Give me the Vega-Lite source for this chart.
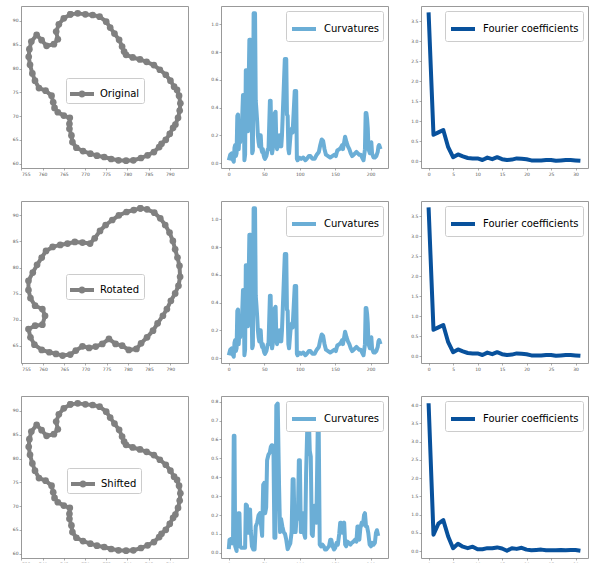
{
"$schema":"https://vega.github.io/schema/vega-lite/v6.json",
"padding":{"left":11,"top":5,"right":0,"bottom":0},
"bounds":"flush",
"spacing":33,
"columns":3,
"resolve":{"scale":{"color":"independent","x":"independent","y":"independent"},"legend":{"color":"independent"}},
"config":{
 "view":{"stroke":"#999","strokeWidth":1},
 "axis":{"grid":false,"domain":false,"labelFont":"DejaVu Sans","labelFontSize":4.5,"labelColor":"#555","tickSize":2,"tickColor":"#777","tickWidth":0.6,"labelPadding":1},
 "legend":{"title":null,"labelFont":"DejaVu Sans","labelFontSize":10,"labelColor":"#000","padding":4,"strokeColor":"#ccc","fillColor":"#fff","cornerRadius":2,"symbolSize":576,"symbolStrokeWidth":4,"labelOffset":6,"rowPadding":0,"offset":5}
},
"datasets":{
 "shapeA":[{"i":0,"x":766.56,"y":91.39},{"i":1,"x":768.28,"y":91.6},{"i":2,"x":770.08,"y":91.39},{"i":3,"x":771.8,"y":91.26},{"i":4,"x":773.44,"y":90.91},{"i":5,"x":775.0,"y":89.86},{"i":6,"x":775.94,"y":88.61},{"i":7,"x":776.95,"y":87.35},{"i":8,"x":778.05,"y":86.03},{"i":9,"x":778.75,"y":84.63},{"i":10,"x":779.22,"y":83.58},{"i":11,"x":779.69,"y":82.89},{"i":12,"x":781.25,"y":82.33},{"i":13,"x":782.97,"y":81.91},{"i":14,"x":784.53,"y":81.42},{"i":15,"x":786.25,"y":80.73},{"i":16,"x":787.66,"y":79.75},{"i":17,"x":789.06,"y":78.7},{"i":18,"x":790.16,"y":77.45},{"i":19,"x":791.02,"y":76.19},{"i":20,"x":791.72,"y":75.5},{"i":21,"x":792.19,"y":74.31},{"i":22,"x":792.5,"y":72.71},{"i":23,"x":792.34,"y":71.17},{"i":24,"x":791.95,"y":69.64},{"i":25,"x":791.33,"y":68.24},{"i":26,"x":790.78,"y":67.55},{"i":27,"x":790.0,"y":66.29},{"i":28,"x":789.06,"y":65.03},{"i":29,"x":788.05,"y":64.2},{"i":30,"x":787.5,"y":63.5},{"i":31,"x":786.25,"y":62.45},{"i":32,"x":784.77,"y":61.76},{"i":33,"x":783.2,"y":61.2},{"i":34,"x":781.41,"y":60.71},{"i":35,"x":779.69,"y":60.64},{"i":36,"x":777.89,"y":60.71},{"i":37,"x":776.17,"y":60.99},{"i":38,"x":774.53,"y":61.41},{"i":39,"x":772.81,"y":61.69},{"i":40,"x":771.25,"y":62.11},{"i":41,"x":769.53,"y":62.66},{"i":42,"x":767.97,"y":63.36},{"i":43,"x":767.03,"y":64.55},{"i":44,"x":766.8,"y":65.94},{"i":45,"x":766.33,"y":67.34},{"i":46,"x":766.33,"y":68.38},{"i":47,"x":766.41,"y":69.64},{"i":48,"x":765.0,"y":70.13},{"i":49,"x":763.59,"y":70.82},{"i":50,"x":762.81,"y":71.73},{"i":51,"x":762.5,"y":72.91},{"i":52,"x":762.11,"y":74.31},{"i":53,"x":760.7,"y":75.36},{"i":54,"x":759.14,"y":75.91},{"i":55,"x":758.2,"y":77.45},{"i":56,"x":757.58,"y":78.98},{"i":57,"x":757.03,"y":80.79},{"i":58,"x":756.72,"y":82.47},{"i":59,"x":756.88,"y":84.07},{"i":60,"x":757.34,"y":85.68},{"i":61,"x":758.59,"y":87.07},{"i":62,"x":759.77,"y":85.96},{"i":63,"x":760.94,"y":84.77},{"i":64,"x":762.66,"y":85.12},{"i":65,"x":763.59,"y":86.16},{"i":66,"x":763.2,"y":87.77},{"i":67,"x":763.83,"y":89.3},{"i":68,"x":765.0,"y":90.56},{"i":69,"x":766.56,"y":91.39}],
 "shapeB":[{"i":0,"x":782.97,"y":91.34},{"i":1,"x":784.53,"y":91.15},{"i":2,"x":786.25,"y":90.51},{"i":3,"x":787.66,"y":89.43},{"i":4,"x":788.83,"y":88.15},{"i":5,"x":789.84,"y":86.69},{"i":6,"x":790.63,"y":85.1},{"i":7,"x":791.17,"y":83.5},{"i":8,"x":791.72,"y":81.91},{"i":9,"x":792.19,"y":80.32},{"i":10,"x":792.34,"y":78.22},{"i":11,"x":791.95,"y":76.5},{"i":12,"x":791.17,"y":75.03},{"i":13,"x":790.16,"y":73.63},{"i":14,"x":789.22,"y":72.04},{"i":15,"x":788.28,"y":70.76},{"i":16,"x":787.03,"y":69.3},{"i":17,"x":785.94,"y":67.9},{"i":18,"x":784.53,"y":66.62},{"i":19,"x":783.13,"y":65.48},{"i":20,"x":782.03,"y":64.39},{"i":21,"x":780.23,"y":64.2},{"i":22,"x":778.67,"y":65.03},{"i":23,"x":777.11,"y":65.35},{"i":24,"x":775.55,"y":66.31},{"i":25,"x":773.98,"y":65.35},{"i":26,"x":772.42,"y":64.84},{"i":27,"x":770.86,"y":64.59},{"i":28,"x":769.3,"y":64.9},{"i":29,"x":767.73,"y":64.08},{"i":30,"x":766.41,"y":63.31},{"i":31,"x":764.61,"y":63.12},{"i":32,"x":763.05,"y":63.44},{"i":33,"x":761.48,"y":63.76},{"i":34,"x":759.69,"y":64.2},{"i":35,"x":757.97,"y":65.22},{"i":36,"x":757.03,"y":66.62},{"i":37,"x":756.56,"y":68.22},{"i":38,"x":758.13,"y":68.85},{"i":39,"x":759.84,"y":69.04},{"i":40,"x":760.47,"y":70.76},{"i":41,"x":759.84,"y":72.04},{"i":42,"x":758.13,"y":72.68},{"i":43,"x":757.03,"y":74.14},{"i":44,"x":756.56,"y":75.67},{"i":45,"x":756.56,"y":77.45},{"i":46,"x":757.58,"y":79.04},{"i":47,"x":758.59,"y":80.51},{"i":48,"x":759.69,"y":81.91},{"i":49,"x":760.7,"y":83.18},{"i":50,"x":762.27,"y":83.95},{"i":51,"x":764.06,"y":84.33},{"i":52,"x":765.78,"y":84.59},{"i":53,"x":767.5,"y":84.9},{"i":54,"x":769.3,"y":84.78},{"i":55,"x":771.09,"y":84.59},{"i":56,"x":772.19,"y":85.61},{"i":57,"x":773.44,"y":87.01},{"i":58,"x":774.77,"y":88.15},{"i":59,"x":776.33,"y":89.11},{"i":60,"x":777.89,"y":90.0},{"i":61,"x":779.69,"y":90.64},{"i":62,"x":781.41,"y":91.02},{"i":63,"x":782.97,"y":91.34}],
 "curvA":[{"x":0,"y":0.02},{"x":2,"y":0.06},{"x":4,"y":0.07},{"x":5,"y":0.03},{"x":7,"y":0.01},{"x":8,"y":0.11},{"x":9,"y":0.13},{"x":10,"y":0.05},{"x":11,"y":0.07},{"x":12,"y":0.34},{"x":13,"y":0.35},{"x":14,"y":0.1},{"x":15,"y":0.2},{"x":16,"y":0.15},{"x":17,"y":0.21},{"x":18,"y":0.2},{"x":20,"y":0.49},{"x":21,"y":0.49},{"x":22,"y":0.02},{"x":23,"y":0.06},{"x":24,"y":0.67},{"x":26,"y":0.67},{"x":27,"y":0.23},{"x":29,"y":0.89},{"x":31,"y":0.89},{"x":33,"y":0.07},{"x":34,"y":0.09},{"x":35,"y":1.08},{"x":37,"y":1.08},{"x":38,"y":0.45},{"x":39,"y":0.38},{"x":40,"y":0.3},{"x":41,"y":0.2},{"x":42,"y":0.15},{"x":43,"y":0.12},{"x":44,"y":0.2},{"x":45,"y":0.2},{"x":46,"y":0.1},{"x":47,"y":0.08},{"x":48,"y":0.1},{"x":49,"y":0.06},{"x":50,"y":0.04},{"x":51,"y":0.03},{"x":53,"y":0.05},{"x":55,"y":0.1},{"x":56,"y":0.1},{"x":58,"y":0.45},{"x":59,"y":0.45},{"x":60,"y":0.15},{"x":61,"y":0.07},{"x":62,"y":0.1},{"x":64,"y":0.35},{"x":66,"y":0.37},{"x":67,"y":0.15},{"x":68,"y":0.1},{"x":69,"y":0.2},{"x":71,"y":0.12},{"x":72,"y":0.2},{"x":74,"y":0.12},{"x":75,"y":0.2},{"x":79,"y":0.75},{"x":81,"y":0.75},{"x":82,"y":0.35},{"x":83,"y":0.34},{"x":84,"y":0.1},{"x":85,"y":0.07},{"x":87,"y":0.2},{"x":89,"y":0.25},{"x":90,"y":0.22},{"x":93,"y":0.52},{"x":95,"y":0.52},{"x":96,"y":0.03},{"x":97,"y":0.02},{"x":99,"y":0.04},{"x":102,"y":0.03},{"x":105,"y":0.04},{"x":108,"y":0.02},{"x":110,"y":0.03},{"x":113,"y":0.05},{"x":115,"y":0.05},{"x":118,"y":0.03},{"x":121,"y":0.03},{"x":124,"y":0.06},{"x":127,"y":0.08},{"x":129,"y":0.13},{"x":131,"y":0.17},{"x":133,"y":0.16},{"x":135,"y":0.1},{"x":137,"y":0.06},{"x":140,"y":0.05},{"x":143,"y":0.04},{"x":146,"y":0.05},{"x":149,"y":0.06},{"x":151,"y":0.05},{"x":153,"y":0.09},{"x":156,"y":0.1},{"x":158,"y":0.11},{"x":160,"y":0.13},{"x":161,"y":0.1},{"x":162,"y":0.13},{"x":164,"y":0.19},{"x":166,"y":0.15},{"x":168,"y":0.12},{"x":170,"y":0.1},{"x":172,"y":0.07},{"x":174,"y":0.05},{"x":176,"y":0.06},{"x":178,"y":0.07},{"x":180,"y":0.08},{"x":182,"y":0.07},{"x":184,"y":0.06},{"x":186,"y":0.06},{"x":188,"y":0.04},{"x":190,"y":0.02},{"x":192,"y":0.1},{"x":193,"y":0.36},{"x":194,"y":0.36},{"x":195,"y":0.32},{"x":196,"y":0.25},{"x":197,"y":0.1},{"x":199,"y":0.07},{"x":200,"y":0.13},{"x":201,"y":0.15},{"x":202,"y":0.07},{"x":204,"y":0.04},{"x":206,"y":0.04},{"x":208,"y":0.05},{"x":210,"y":0.08},{"x":211,"y":0.12},{"x":212,"y":0.13},{"x":214,"y":0.1}],
 "curvC":[{"x":0,"y":0.02},{"x":1,"y":0.07},{"x":3,"y":0.074},{"x":5,"y":0.05},{"x":6,"y":0.08},{"x":7,"y":0.62},{"x":8,"y":0.62},{"x":9,"y":0.035},{"x":11,"y":0.01},{"x":12,"y":0.12},{"x":13.5,"y":0.21},{"x":15,"y":0.21},{"x":16,"y":0.035},{"x":18,"y":0.027},{"x":20,"y":0.027},{"x":21,"y":0.027},{"x":23,"y":0.027},{"x":24,"y":0.256},{"x":25.6,"y":0.25},{"x":27.5,"y":0.106},{"x":29,"y":0.23},{"x":30,"y":0.23},{"x":31,"y":0.12},{"x":32.6,"y":0.035},{"x":34.5,"y":0.018},{"x":36.4,"y":0.018},{"x":38,"y":0.14},{"x":40,"y":0.16},{"x":42,"y":0.2},{"x":44,"y":0.21},{"x":45.7,"y":0.14},{"x":47,"y":0.09},{"x":48.5,"y":0.36},{"x":50,"y":0.37},{"x":51.3,"y":0.21},{"x":52.7,"y":0.24},{"x":54,"y":0.49},{"x":56,"y":0.52},{"x":57.8,"y":0.53},{"x":59.2,"y":0.56},{"x":60.6,"y":0.57},{"x":61.5,"y":0.57},{"x":63,"y":0.54},{"x":64.3,"y":0.08},{"x":65.7,"y":0.08},{"x":67,"y":0.78},{"x":69,"y":0.79},{"x":70.9,"y":0.35},{"x":72.3,"y":0.11},{"x":73.7,"y":0.18},{"x":75.5,"y":0.14},{"x":77.4,"y":0.11},{"x":79.3,"y":0.1},{"x":81,"y":0.07},{"x":83,"y":0.02},{"x":84.8,"y":0.035},{"x":86.7,"y":0.05},{"x":88.6,"y":0.11},{"x":90,"y":0.39},{"x":91.4,"y":0.39},{"x":92.8,"y":0.11},{"x":94.2,"y":0.11},{"x":95.6,"y":0.19},{"x":97.4,"y":0.18},{"x":98.8,"y":0.49},{"x":100.2,"y":0.49},{"x":101.6,"y":0.11},{"x":103.5,"y":0.21},{"x":104.9,"y":0.21},{"x":106.3,"y":0.1},{"x":107.7,"y":0.08},{"x":109,"y":0.42},{"x":111,"y":0.71},{"x":112.8,"y":0.72},{"x":114.2,"y":0.54},{"x":115.6,"y":0.51},{"x":117,"y":0.1},{"x":118.4,"y":0.09},{"x":120.3,"y":0.25},{"x":122,"y":0.25},{"x":123.5,"y":0.16},{"x":125.4,"y":0.65},{"x":126.8,"y":0.66},{"x":128.2,"y":0.044},{"x":130,"y":0.035},{"x":132,"y":0.044},{"x":133.8,"y":0.035},{"x":135.7,"y":0.018},{"x":137.5,"y":0.018},{"x":139.4,"y":0.027},{"x":141.3,"y":0.035},{"x":143.1,"y":0.07},{"x":144.5,"y":0.07},{"x":146.4,"y":0.035},{"x":148.3,"y":0.018},{"x":150.1,"y":0.027},{"x":152,"y":0.053},{"x":153.8,"y":0.044},{"x":155.7,"y":0.1},{"x":157.1,"y":0.16},{"x":158.5,"y":0.16},{"x":159.9,"y":0.106},{"x":161.3,"y":0.14},{"x":162.7,"y":0.16},{"x":164.1,"y":0.044},{"x":165.5,"y":0.035},{"x":167.4,"y":0.06},{"x":169.2,"y":0.053},{"x":171.6,"y":0.044},{"x":173.4,"y":0.053},{"x":175.8,"y":0.06},{"x":178,"y":0.07},{"x":180,"y":0.06},{"x":181.4,"y":0.14},{"x":182.8,"y":0.14},{"x":184.1,"y":0.07},{"x":185.5,"y":0.13},{"x":187.4,"y":0.16},{"x":189.3,"y":0.15},{"x":190.7,"y":0.2},{"x":192,"y":0.21},{"x":193.5,"y":0.14},{"x":194.9,"y":0.14},{"x":196.7,"y":0.106},{"x":198.6,"y":0.044},{"x":200.5,"y":0.035},{"x":202.3,"y":0.053},{"x":204.2,"y":0.044},{"x":206,"y":0.053},{"x":207.5,"y":0.106},{"x":208.9,"y":0.12},{"x":210.7,"y":0.09}],
 "fourA":[{"x":0,"y":3.72},{"x":1,"y":0.66},{"x":2,"y":0.72},{"x":3,"y":0.78},{"x":4,"y":0.35},{"x":5,"y":0.1},{"x":6,"y":0.17},{"x":7,"y":0.12},{"x":8,"y":0.08},{"x":9,"y":0.07},{"x":10,"y":0.07},{"x":11,"y":0.03},{"x":12,"y":0.09},{"x":13,"y":0.05},{"x":14,"y":0.1},{"x":15,"y":0.05},{"x":16,"y":0.03},{"x":17,"y":0.04},{"x":18,"y":0.07},{"x":19,"y":0.06},{"x":20,"y":0.05},{"x":21,"y":0.02},{"x":22,"y":0.02},{"x":23,"y":0.02},{"x":24,"y":0.03},{"x":25,"y":0.03},{"x":26,"y":0.01},{"x":27,"y":0.02},{"x":28,"y":0.03},{"x":29,"y":0.03},{"x":30,"y":0.02},{"x":31,"y":0.01}],
 "fourC":[{"x":0,"y":4.05},{"x":1,"y":0.45},{"x":2,"y":0.75},{"x":3,"y":0.85},{"x":4,"y":0.4},{"x":5,"y":0.08},{"x":6,"y":0.2},{"x":7,"y":0.12},{"x":8,"y":0.08},{"x":9,"y":0.12},{"x":10,"y":0.05},{"x":11,"y":0.05},{"x":12,"y":0.08},{"x":13,"y":0.08},{"x":14,"y":0.1},{"x":15,"y":0.07},{"x":16,"y":0.01},{"x":17,"y":0.08},{"x":18,"y":0.06},{"x":19,"y":0.09},{"x":20,"y":0.04},{"x":21,"y":0.02},{"x":22,"y":0.03},{"x":23,"y":0.04},{"x":24,"y":0.02},{"x":25,"y":0.02},{"x":26,"y":0.02},{"x":27,"y":0.03},{"x":28,"y":0.02},{"x":29,"y":0.03},{"x":30,"y":0.03},{"x":31,"y":0.01}]
},
"concat":[
 {"width":167,"height":162,"data":{"name":"shapeA"},
  "encoding":{"x":{"field":"x","type":"quantitative","title":null,"scale":{"domain":[754.9,794.3],"nice":false,"zero":false},"axis":{"values":[755,760,765,770,775,780,785,790],"format":"d"}},
   "y":{"field":"y","type":"quantitative","title":null,"scale":{"domain":[59.1,93.15],"nice":false,"zero":false},"axis":{"values":[60,65,70,75,80,85,90],"format":"d"}}},
  "layer":[
   {"mark":{"type":"line","color":"#808080","strokeWidth":4,"strokeJoin":"round"},"encoding":{"order":{"field":"i","type":"quantitative"}}},
   {"mark":{"type":"point","filled":true,"size":45,"opacity":1},"encoding":{"color":{"datum":"Original","scale":{"range":["#808080"]},"legend":{"orient":"none","legendX":45,"legendY":72,"symbolType":"M-1,-0.17L1,-0.17L1,0.17L-1,0.17Z M-0.3,0 A0.3,0.3 0 1,1 0.3,0 A0.3,0.3 0 1,1 -0.3,0 Z","symbolStrokeWidth":0,"symbolFillColor":"#808080"}}}}
  ]},
 {"width":167,"height":162,"data":{"name":"curvA"},"mark":{"type":"line","strokeWidth":4,"strokeJoin":"round"},
  "encoding":{"x":{"field":"x","type":"quantitative","title":null,"scale":{"domain":[-11,224.5],"nice":false,"zero":false},"axis":{"values":[0,50,100,150,200],"format":"d"}},
   "y":{"field":"y","type":"quantitative","title":null,"scale":{"domain":[-0.036,1.133],"nice":false,"zero":false},"axis":{"values":[0,0.2,0.4,0.6,0.8,1.0],"format":".1f"}},
   "color":{"datum":"Curvatures","scale":{"range":["#6baed6"]},"legend":{"orient":"top-right","symbolType":"stroke"}}}},
 {"width":167,"height":162,"data":{"name":"fourA"},"mark":{"type":"line","strokeWidth":4,"strokeJoin":"round"},
  "encoding":{"x":{"field":"x","type":"quantitative","title":null,"scale":{"domain":[-1.55,32.55],"nice":false,"zero":false},"axis":{"values":[0,5,10,15,20,25,30],"format":"d"}},
   "y":{"field":"y","type":"quantitative","title":null,"scale":{"domain":[-0.17,3.88],"nice":false,"zero":false},"axis":{"values":[0,0.5,1.0,1.5,2.0,2.5,3.0,3.5],"format":".1f"}},
   "color":{"datum":"Fourier coefficients","scale":{"range":["#08519c"]},"legend":{"orient":"top-right","symbolType":"stroke"}}}},
 {"width":167,"height":162,"data":{"name":"shapeB"},
  "encoding":{"x":{"field":"x","type":"quantitative","title":null,"scale":{"domain":[754.8,794.2],"nice":false,"zero":false},"axis":{"values":[755,760,765,770,775,780,785,790],"format":"d"}},
   "y":{"field":"y","type":"quantitative","title":null,"scale":{"domain":[61.7,92.75],"nice":false,"zero":false},"axis":{"values":[65,70,75,80,85,90],"format":"d"}}},
  "layer":[
   {"mark":{"type":"line","color":"#808080","strokeWidth":4,"strokeJoin":"round"},"encoding":{"order":{"field":"i","type":"quantitative"}}},
   {"mark":{"type":"point","filled":true,"size":45,"opacity":1},"encoding":{"color":{"datum":"Rotated","scale":{"range":["#808080"]},"legend":{"orient":"none","legendX":45,"legendY":73,"symbolType":"M-1,-0.17L1,-0.17L1,0.17L-1,0.17Z M-0.3,0 A0.3,0.3 0 1,1 0.3,0 A0.3,0.3 0 1,1 -0.3,0 Z","symbolStrokeWidth":0,"symbolFillColor":"#808080"}}}}
  ]},
 {"width":167,"height":162,"data":{"name":"curvA"},"mark":{"type":"line","strokeWidth":4,"strokeJoin":"round"},
  "encoding":{"x":{"field":"x","type":"quantitative","title":null,"scale":{"domain":[-11,224.5],"nice":false,"zero":false},"axis":{"values":[0,50,100,150,200],"format":"d"}},
   "y":{"field":"y","type":"quantitative","title":null,"scale":{"domain":[-0.036,1.133],"nice":false,"zero":false},"axis":{"values":[0,0.2,0.4,0.6,0.8,1.0],"format":".1f"}},
   "color":{"datum":"Curvatures","scale":{"range":["#6baed6"]},"legend":{"orient":"top-right","symbolType":"stroke"}}}},
 {"width":167,"height":162,"data":{"name":"fourA"},"mark":{"type":"line","strokeWidth":4,"strokeJoin":"round"},
  "encoding":{"x":{"field":"x","type":"quantitative","title":null,"scale":{"domain":[-1.55,32.55],"nice":false,"zero":false},"axis":{"values":[0,5,10,15,20,25,30],"format":"d"}},
   "y":{"field":"y","type":"quantitative","title":null,"scale":{"domain":[-0.17,3.88],"nice":false,"zero":false},"axis":{"values":[0,0.5,1.0,1.5,2.0,2.5,3.0,3.5],"format":".1f"}},
   "color":{"datum":"Fourier coefficients","scale":{"range":["#08519c"]},"legend":{"orient":"top-right","symbolType":"stroke"}}}},
 {"width":167,"height":162,"data":{"name":"shapeA"},
  "encoding":{"x":{"field":"x","type":"quantitative","title":null,"scale":{"domain":[754.9,794.3],"nice":false,"zero":false},"axis":{"values":[755,760,765,770,775,780,785,790],"format":"d"}},
   "y":{"field":"y","type":"quantitative","title":null,"scale":{"domain":[59.1,93.15],"nice":false,"zero":false},"axis":{"values":[60,65,70,75,80,85,90],"format":"d"}}},
  "layer":[
   {"mark":{"type":"line","color":"#808080","strokeWidth":4,"strokeJoin":"round"},"encoding":{"order":{"field":"i","type":"quantitative"}}},
   {"mark":{"type":"point","filled":true,"size":45,"opacity":1},"encoding":{"color":{"datum":"Shifted","scale":{"range":["#808080"]},"legend":{"orient":"none","legendX":46,"legendY":72,"symbolType":"M-1,-0.17L1,-0.17L1,0.17L-1,0.17Z M-0.3,0 A0.3,0.3 0 1,1 0.3,0 A0.3,0.3 0 1,1 -0.3,0 Z","symbolStrokeWidth":0,"symbolFillColor":"#808080"}}}}
  ]},
 {"width":167,"height":162,"data":{"name":"curvC"},"mark":{"type":"line","strokeWidth":4,"strokeJoin":"round"},
  "encoding":{"x":{"field":"x","type":"quantitative","title":null,"scale":{"domain":[-11,224.5],"nice":false,"zero":false},"axis":{"values":[0,50,100,150,200],"format":"d"}},
   "y":{"field":"y","type":"quantitative","title":null,"scale":{"domain":[-0.027,0.83],"nice":false,"zero":false},"axis":{"values":[0,0.1,0.2,0.3,0.4,0.5,0.6,0.7,0.8],"format":".1f"}},
   "color":{"datum":"Curvatures","scale":{"range":["#6baed6"]},"legend":{"orient":"top-right","symbolType":"stroke"}}}},
 {"width":167,"height":162,"data":{"name":"fourC"},"mark":{"type":"line","strokeWidth":4,"strokeJoin":"round"},
  "encoding":{"x":{"field":"x","type":"quantitative","title":null,"scale":{"domain":[-1.55,32.55],"nice":false,"zero":false},"axis":{"values":[0,5,10,15,20,25,30],"format":"d"}},
   "y":{"field":"y","type":"quantitative","title":null,"scale":{"domain":[-0.19,4.25],"nice":false,"zero":false},"axis":{"values":[0,0.5,1.0,1.5,2.0,2.5,3.0,3.5,4.0],"format":".1f"}},
   "color":{"datum":"Fourier coefficients","scale":{"range":["#08519c"]},"legend":{"orient":"top-right","symbolType":"stroke"}}}}
]
}
